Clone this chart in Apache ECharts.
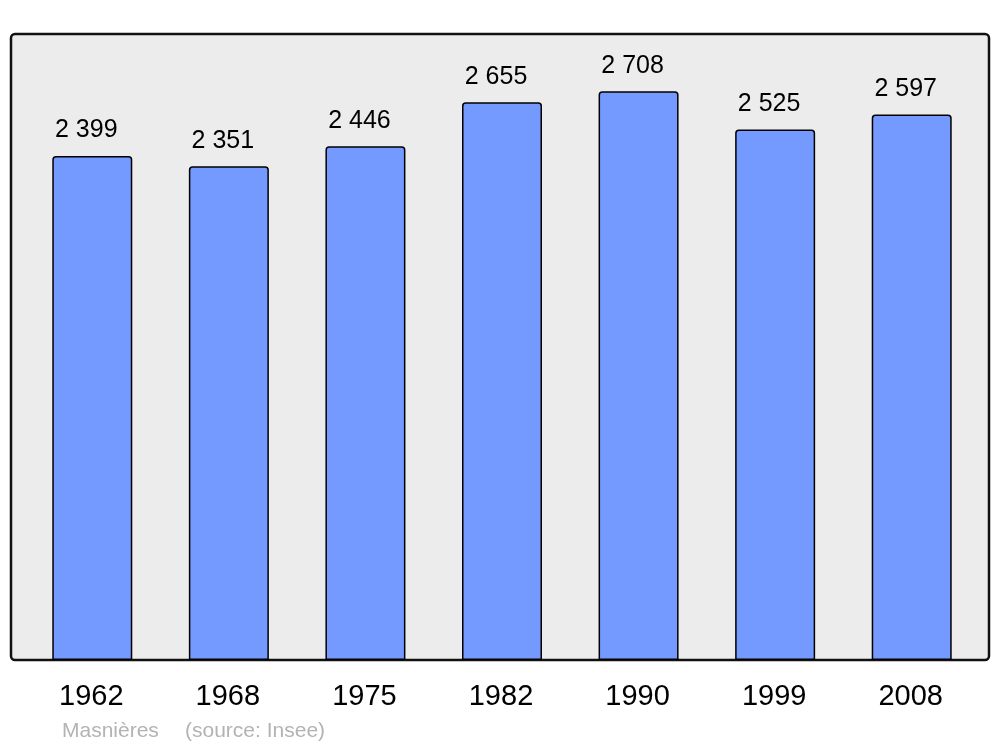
<!DOCTYPE html>
<html>
<head>
<meta charset="utf-8">
<script src="https://cdn.jsdelivr.net/npm/echarts@6/dist/echarts.min.js"></script>
<style>
  html, body { margin: 0; padding: 0; background: #fff; }
  #chart { width: 1000px; height: 747px; }
</style>
</head>
<body>
<div id="chart"></div>
<script>
// population data
const years = ['1962', '1968', '1975', '1982', '1990', '1999', '2008'];
const population = [2399, 2351, 2446, 2655, 2708, 2525, 2597];
const townName = 'Masnières';
const sourceNote = '(source: Insee)';

const fmt = v => String(v).replace(/\B(?=(\d{3})+(?!\d))/g, ' ');

const chart = echarts.init(document.getElementById('chart'));

chart.setOption({
    animation: false,
    textStyle: { fontFamily: 'Liberation Sans, Arial, sans-serif' },
    title: [
        { text: townName, left: 62, top: 721, padding: 0, textStyle: { fontSize: 21, fontWeight: 'normal', color: '#b3b3b3' } },
        { text: sourceNote, left: 185, top: 721, padding: 0, textStyle: { fontSize: 21, fontWeight: 'normal', color: '#b3b3b3' } }
    ],
    graphic: [
        {
            type: 'rect',
            z: -10,
            shape: { x: 11, y: 34, width: 978, height: 626, r: 4 },
            style: { fill: '#ececec', stroke: '#111', lineWidth: 2.5 }
        }
    ],
    grid: { left: 24, right: 20, top: 34, bottom: 87 },
    xAxis: {
        type: 'category',
        data: years,
        axisLine: { show: false },
        axisTick: { show: false },
        axisLabel: { fontSize: 29, color: '#000', margin: 22, padding: [0, 2, 0, 0] }
    },
    yAxis: {
        type: 'value',
        min: 0,
        max: 2980,
        show: false,
        splitLine: { show: false }
    },
    series: [
        {
            type: 'bar',
            data: population,
            barWidth: 80,
            itemStyle: {
                color: '#7499ff',
                borderColor: '#000',
                borderWidth: 1.5,
                borderRadius: [3, 3, 0, 0]
            },
            label: {
                show: true,
                position: 'top',
                distance: 13,
                offset: [-6, 0],
                fontSize: 25,
                color: '#000',
                formatter: p => fmt(p.value)
            }
        }
    ]
});
</script>
</body>
</html>
